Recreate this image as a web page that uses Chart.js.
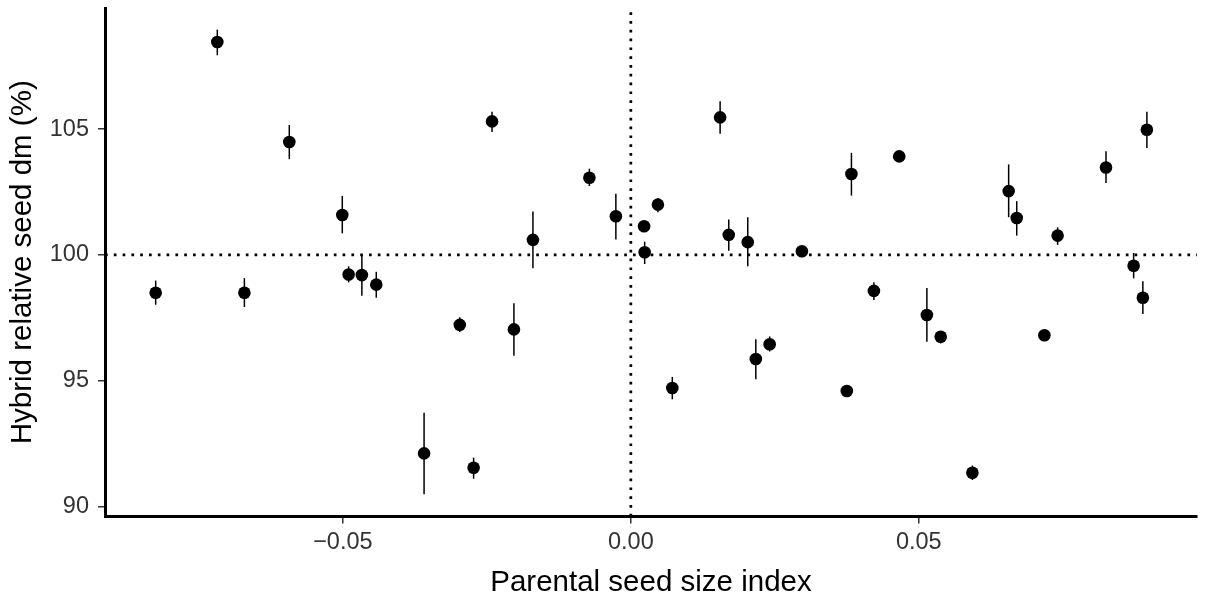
<!DOCTYPE html>
<html><head><meta charset="utf-8">
<script src="https://cdn.jsdelivr.net/npm/chart.js@4.4.1/dist/chart.umd.min.js"></script>
<style>html,body{margin:0;padding:0;background:#fff}canvas{display:block}</style>
</head><body>
<canvas id="c" width="1208" height="592"></canvas>
<script>
// parental seed size index vs hybrid relative seed dry mass, with error ranges
const X_IDX=[-0.0825,-0.0718,-0.0671,-0.0593,-0.0501,-0.0490,-0.0467,-0.0442,-0.0359,-0.0297,-0.0273,-0.0241,-0.0203,-0.0170,-0.0072,-0.0026,0.0023,0.0024,0.0047,0.0072,0.0155,0.0170,0.0203,0.0217,0.0241,0.0297,0.0375,0.0383,0.0422,0.0466,0.0514,0.0538,0.0593,0.0656,0.0670,0.0718,0.0741,0.0825,0.0873,0.0889,0.0896];
const Y_REL=[98.50,108.47,98.50,104.49,101.59,99.22,99.20,98.82,92.11,97.22,91.54,105.31,97.04,100.60,103.07,101.54,101.14,100.11,102.00,94.71,105.47,100.80,100.51,95.86,96.45,100.15,94.59,103.22,98.57,103.92,97.61,96.75,91.34,102.54,101.47,96.81,100.77,103.48,99.57,98.30,104.98];
const Y_LO=[98.02,107.94,97.93,103.81,100.86,98.91,98.38,98.30,90.48,96.94,91.10,104.89,95.99,99.47,102.74,100.61,101.00,99.64,101.70,94.26,104.82,100.17,99.55,95.06,96.16,99.92,94.45,102.36,98.21,103.78,96.55,96.48,91.05,101.50,100.77,96.67,100.40,102.86,99.07,97.65,104.25];
const Y_HI=[98.98,108.96,99.08,105.17,102.35,99.55,100.00,99.33,93.73,97.52,91.94,105.69,98.08,101.73,103.43,102.43,101.28,100.53,102.26,95.15,106.11,101.41,101.50,96.65,96.76,100.36,94.73,104.06,98.91,104.06,98.69,96.98,91.63,103.60,102.14,96.95,101.10,104.12,100.08,98.95,105.69];
const X_TICKS=[-0.05,0,0.05];
const X_LABELS=['\u22120.05','0.00','0.05'];
const Y_TICKS=[90,95,100,105];
const X_RANGE=[-0.0913,0.0983];
const Y_RANGE=[89.6,109.82];
const REF_X=0,REF_Y=100;

Chart.defaults.font.family="'Liberation Sans', Arial, sans-serif";

const errBars={id:'errBars',beforeDatasetDraw(chart,args){
  if(args.index!==0)return;
  const {ctx,scales:{x,y}}=chart;
  ctx.save();ctx.strokeStyle='#000';ctx.lineWidth=1.5;
  X_IDX.forEach((v,i)=>{
    const px=x.getPixelForValue(v);
    ctx.beginPath();ctx.moveTo(px,y.getPixelForValue(Y_LO[i]));ctx.lineTo(px,y.getPixelForValue(Y_HI[i]));ctx.stroke();
  });
  ctx.restore();
}};

const dotted={showLine:true,pointRadius:0,borderColor:'#000',borderWidth:2.7,borderDash:[2.7,6.1],borderCapStyle:'butt',fill:false,order:2};

new Chart(document.getElementById('c'),{
  type:'scatter',
  data:{datasets:[
    {data:X_IDX.map((v,i)=>({x:v,y:Y_REL[i]})),backgroundColor:'#000',borderColor:'#000',pointRadius:6.3,borderWidth:0,order:0},
    {...dotted,data:[{x:REF_X,y:Y_RANGE[0]},{x:REF_X,y:Y_RANGE[1]}]},
    {...dotted,data:[{x:X_RANGE[0],y:REF_Y},{x:X_RANGE[1],y:REF_Y}]}
  ]},
  options:{
    responsive:false,animation:false,devicePixelRatio:1,events:[],
    layout:{padding:{top:8,right:11,bottom:0,left:0}},
    plugins:{legend:{display:false},tooltip:{enabled:false}},
    scales:{
      x:{type:'linear',position:'bottom',min:X_RANGE[0],max:X_RANGE[1],
        afterBuildTicks:s=>{s.ticks=X_TICKS.map(v=>({value:v}))},
        afterFit:s=>{s.height=75.5;s.paddingLeft=0;s.paddingRight=0},
        border:{display:true,color:'#000',width:3},
        grid:{display:true,drawOnChartArea:false,drawTicks:true,tickLength:7,lineWidth:1.5,color:'#333'},
        ticks:{color:'#333',font:{size:23.5},padding:5,maxRotation:0,autoSkip:false,callback:(v,i)=>X_LABELS[i]},
        title:{display:true,text:'Parental seed size index',color:'#000',font:{size:29.5,lineHeight:1},padding:{top:0,bottom:-5.5}}
      },
      y:{type:'linear',position:'left',min:Y_RANGE[0],max:Y_RANGE[1],
        afterBuildTicks:s=>{s.ticks=Y_TICKS.map(v=>({value:v}))},
        afterFit:s=>{s.width=105;s.paddingTop=0;s.paddingBottom=0},
        border:{display:true,color:'#000',width:3},
        grid:{display:true,drawOnChartArea:false,drawTicks:true,tickLength:7,lineWidth:1.5,color:'#333'},
        ticks:{color:'#333',font:{size:23.5},padding:9,autoSkip:false,callback:v=>String(v)},
        title:{display:true,text:'Hybrid relative seed dm (%)',color:'#000',font:{size:29.5,lineHeight:1},padding:{top:8.5,bottom:0}}
      }
    }
  },
  plugins:[errBars]
});
</script>
</body></html>
